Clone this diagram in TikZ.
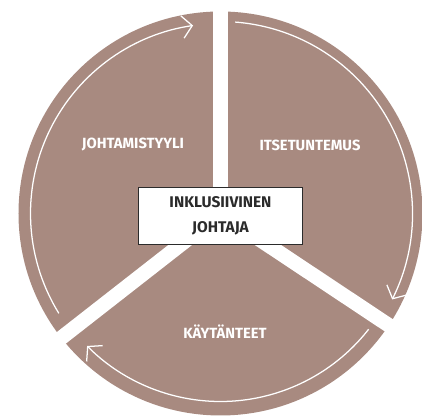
\documentclass[tikz,border=0pt]{standalone}
\usepackage{fontspec}
\setmainfont{Fira Sans}
\usepackage{tikz}
\usetikzlibrary{arrows.meta,positioning}
\definecolor{cB}{HTML}{A88A80}
\definecolor{cK}{HTML}{2B2B2B}
\tikzset{
  lbl/.style={text=white,font=\bfseries\fontsize{10.5}{12}\selectfont},
  hub/.style={draw=cK,line width=.7pt,fill=white,minimum width=117pt,
              minimum height=41pt,align=center,text=cK,
              font=\bfseries\fontsize{11}{17.7}\selectfont},
  gap/.style={white,line width=10.4pt},
  cyc/.style={-{Straight Barb[length=7pt,width=16pt]},white,line width=.9pt},
}

\begin{document}
\begin{tikzpicture}[x=0.025cm,y=0.025cm]
  \useasboundingbox (-220.5,-205.5) rectangle (201.5,213.5);
  \fill[cB] (0,0) circle[radius=202];
  \foreach \a in {90,218,-33.6}{\draw[gap] (0,0) -- (\a:215);}
  % arrows round the wheel
  \draw[cyc] (211.7:190) arc[start angle=211.7,end angle=98.3,radius=190];
  \draw[cyc] (85.6:192) arc[start angle=85.6,end angle=-26.6,radius=192];
  \draw[cyc] (-38:188) arc[start angle=-38,end angle=-135.2,radius=188];
  \node[lbl] (johto) at (-87.5,68.5) {JOHTAMISTYYLI};
  \node[lbl] (itse) at (89.5,68.5) {ITSETUNTEMUS};
  \node[lbl] (kayt) at (4.5,-118.5) {KÄYTÄNTEET};
  \node[hub] (hub) at (0,-2.5) {INKLUSIIVINEN\\JOHTAJA};
\end{tikzpicture}
\end{document}
